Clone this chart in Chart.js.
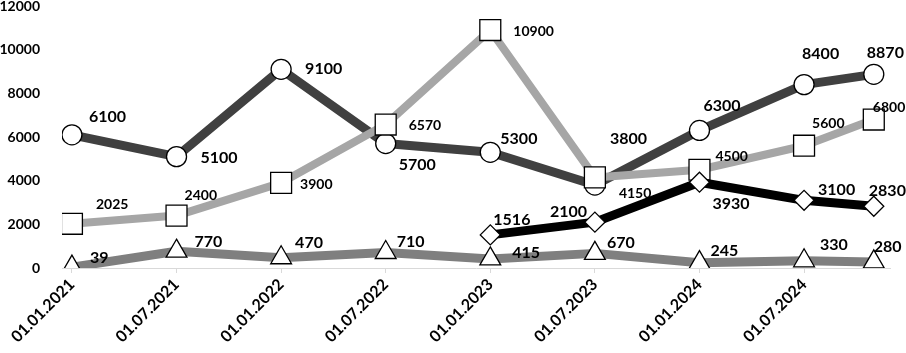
<!DOCTYPE html>
<html>
<head>
<meta charset="utf-8">
<script src="https://cdn.jsdelivr.net/npm/chart.js@4"></script>
<style>
    html, body { margin: 0; padding: 0; background: #fff; }
    #wrap { width: 906px; height: 353px; }
</style>
</head>
<body>
<div id="wrap"><canvas id="lineChart"></canvas></div>
<script>
// months since 01.01.2021
const months = [0, 6, 12, 18, 24, 30, 36, 42, 46];
const tickMonths = [0, 6, 12, 18, 24, 30, 36, 42];
const tickLabels = ["01.01.2021", "01.07.2021", "01.01.2022", "01.07.2022",
    "01.01.2023", "01.07.2023", "01.01.2024", "01.07.2024"];

const circleValues = [6100, 5100, 9100, 5700, 5300, 3800, 6300, 8400, 8870];
const squareValues = [2025, 2400, 3900, 6570, 10900, 4150, 4500, 5600, 6800];
const diamondValues = [null, null, null, null, 1516, 2100, 3930, 3100, 2830];
const triangleValues = [39, 770, 470, 710, 415, 670, 245, 330, 280];

// where each value label sits relative to its point (px)
const circleLabelPos = [[17, -18], [24, 1], [24, 0], [13, 21], [10, -13], [15, -46], [4, -25], [-2, -31], [-7, -21]];
const squareLabelPos = [[24, -19], [8, -20], [19, 2], [23, 1], [23, 1], [24, 16], [16, -13], [8, -22], [-1, -12]];
const diamondLabelPos = [null, null, null, null, [3, -15], [-45, -10], [13, 22], [14, -10], [-5, -15]];
const triangleLabelPos = [[18, -9], [18, -9], [14, -15], [11, -11], [22, -6], [12, -11], [11, -12], [16, -16], [0, -15]];

function toPoints(values) {
    return values.map((v, i) => ({ x: months[i], y: v }));
}

const valueLabels = {
    id: "valueLabels",
    afterDatasetsDraw(chart) {
        const ctx = chart.ctx;
        ctx.save();
        ctx.fillStyle = "#000";
        ctx.textAlign = "left";
        ctx.textBaseline = "middle";
        chart.data.datasets.forEach((ds, di) => {
            const meta = chart.getDatasetMeta(di);
            ctx.font = "bold " + ds.labelSize + "px Lato";
            meta.data.forEach((pt, i) => {
                const v = ds.data[i].y;
                const pos = ds.labelPos[i];
                if (v === null || !pos) return;
                ctx.fillText(String(v), pt.x + pos[0], pt.y + pos[1]);
            });
        });
        ctx.restore();
    }
};

const ctx = document.getElementById("lineChart").getContext("2d");
new Chart(ctx, {
    type: "line",
    data: {
        datasets: [
            {
                label: "diamonds",
                data: toPoints(diamondValues),
                borderColor: "#000000",
                borderWidth: 9,
                pointStyle: "rectRot",
                pointRadius: 10,
                labelPos: diamondLabelPos,
                labelSize: 16
            },
            {
                label: "squares",
                data: toPoints(squareValues),
                borderColor: "#a6a6a6",
                borderWidth: 8,
                pointStyle: "rect",
                pointRadius: 14.8,
                labelPos: squareLabelPos,
                labelSize: 14
            },
            {
                label: "circles",
                data: toPoints(circleValues),
                borderColor: "#404040",
                borderWidth: 9,
                pointStyle: "circle",
                pointRadius: 10,
                labelPos: circleLabelPos,
                labelSize: 16
            },
            {
                label: "triangles",
                data: toPoints(triangleValues),
                borderColor: "#7f7f7f",
                borderWidth: 9,
                pointStyle: "triangle",
                pointRadius: 12,
                labelPos: triangleLabelPos,
                labelSize: 16
            }
        ]
    },
    options: {
        responsive: true,
        maintainAspectRatio: false,
        animation: false,
        layout: { autoPadding: false, padding: { top: 0, right: 16, bottom: 0, left: 0 } },
        elements: {
            line: { tension: 0, borderJoinStyle: "round", fill: false }
        },
        datasets: {
            line: {
                pointBackgroundColor: "#ffffff",
                pointBorderColor: "#000000",
                pointBorderWidth: 1.3,
                pointHoverRadius: 10,
                spanGaps: false
            }
        },
        plugins: {
            legend: { display: false },
            tooltip: { enabled: false }
        },
        scales: {
            x: {
                type: "linear",
                min: -0.57,
                max: 46.93,
                afterBuildTicks: scale => {
                    scale.ticks = tickMonths.map(m => ({ value: m }));
                },
                afterFit: scale => {
                    scale.paddingLeft = 0;
                    scale.paddingRight = 0;
                    scale.height = 85;
                },
                ticks: {
                    autoSkip: false,
                    minRotation: 45,
                    maxRotation: 45,
                    color: "#000",
                    padding: 2,
                    font: { family: "Lato", size: 16, weight: "bold" },
                    callback: value => tickLabels[tickMonths.indexOf(value)]
                },
                grid: {
                    drawOnChartArea: false,
                    color: "#d9d9d9",
                    tickLength: 5
                },
                border: { color: "#d9d9d9", width: 1 }
            },
            y: {
                min: 0,
                max: 12000,
                afterFit: scale => {
                    scale.width = 62;
                    scale.paddingTop = 6;
                    scale.paddingBottom = 0;
                },
                ticks: {
                    stepSize: 2000,
                    color: "#000",
                    padding: 14,
                    font: { family: "Lato", size: 14, weight: "bold", lineHeight: 1 },
                    callback: value => String(value)
                },
                grid: { display: false },
                border: { display: false }
            }
        }
    },
    plugins: [valueLabels]
});
</script>
</body>
</html>
